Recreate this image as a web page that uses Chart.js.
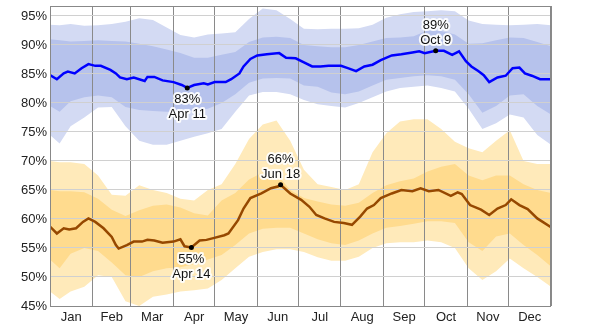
<!DOCTYPE html>
<html>
<head>
<meta charset="utf-8">
<script src="https://cdn.jsdelivr.net/npm/chart.js@4/dist/chart.umd.min.js"></script>
<style>
  html, body { margin: 0; padding: 0; background: #ffffff; }
  #c { display: block; }
</style>
</head>
<body>
<canvas id="c" width="600" height="329"></canvas>
<script>
// ---------- DATA ----------
const MONTHS = ['Jan','Feb','Mar','Apr','May','Jun','Jul','Aug','Sep','Oct','Nov','Dec'];
const MONTH_STARTS = [0,31,59,90,120,151,181,212,243,273,304,334,365];
const Y_TICKS = [45,50,55,60,65,70,75,80,85,90,95];

// Percentile bands (day of year)
const BAND_DAYS = [0,7,15,25,35,45,55,65,75,85,95,105,115,125,135,145,155,165,175,185,195,205,215,225,235,245,255,265,275,285,295,305,315,325,335,345,355,365];
const BLUE_P90 = [93.5,93.4,93.6,93.3,93.4,93.6,94.0,94.6,94.3,93.0,91.7,91.3,91.8,92.0,92.2,94.5,96.3,96.0,94.5,92.8,92.7,92.8,92.8,92.9,93.5,94.7,95.3,95.7,95.8,96.0,95.8,94.2,93.6,93.5,93.4,93.5,93.6,93.4];
const BLUE_P75 = [91.0,90.8,90.6,90.7,90.8,90.7,90.6,90.2,89.8,89.2,88.6,87.8,87.8,88.3,88.8,90.5,91.3,91.4,91.2,90.0,89.8,89.6,89.6,90.0,90.6,91.2,91.3,91.5,92.5,92.4,91.8,90.2,90.3,90.8,91.3,91.2,90.5,89.8];
const BLUE_P25 = [79.5,78.5,80.3,81.0,81.3,81.0,79.3,78.8,78.6,78.5,78.5,78.6,79.0,80.0,81.5,83.5,84.2,84.3,84.2,83.0,82.8,81.8,81.5,82.0,83.0,84.0,84.3,84.6,84.8,84.6,84.0,81.5,78.3,79.5,81.3,81.5,79.5,78.0];
const BLUE_P10 = [74.5,73.0,76.0,77.5,79.2,79.3,76.0,73.5,72.8,72.8,73.5,74.2,74.8,75.5,78.5,81.3,81.9,81.9,81.5,80.5,79.8,79.5,79.2,80.0,81.0,82.0,82.6,82.8,83.0,82.6,82.0,79.0,75.5,76.5,78.0,77.5,74.5,72.8];

const ORANGE_P90 = [70.0,69.8,69.8,69.5,67.5,64.2,64.0,65.8,65.0,64.5,63.5,63.2,65.0,66.0,69.5,73.8,76.3,77.0,73.5,68.5,66.0,65.5,65.0,66.0,71.5,74.8,76.8,77.2,77.2,75.5,73.3,72.2,71.5,73.5,75.3,70.0,69.5,69.5];
const ORANGE_P75 = [65.0,64.8,64.8,64.6,63.5,61.6,60.5,61.5,62.3,62.5,62.0,61.0,60.6,63.2,64.5,66.8,68.0,67.8,65.0,63.6,63.0,62.5,62.3,62.8,64.5,65.8,66.5,67.0,68.2,69.0,69.5,67.5,66.7,67.5,67.5,66.0,65.0,64.5];
const ORANGE_P25 = [53.0,51.5,54.0,55.0,54.5,52.5,50.3,50.0,51.0,51.5,51.7,52.2,53.0,53.8,55.5,57.5,58.3,58.5,58.5,57.5,56.5,55.8,55.5,56.3,57.5,58.5,58.8,59.2,59.6,59.6,59.3,56.0,54.5,57.0,57.5,55.5,53.8,51.8];
const ORANGE_P10 = [47.5,46.2,47.5,48.3,50.3,50.0,45.8,45.0,46.6,47.0,47.5,47.7,48.0,49.5,51.5,53.5,54.3,54.8,54.8,54.3,53.4,52.8,52.8,53.5,55.0,55.8,56.0,56.0,56.3,56.0,55.0,51.5,49.5,51.0,53.2,51.5,50.0,48.3];

// Median lines
const BLUE_DAYS = [0,5,10,13,18,23,28,33,37,44,48,51,56,61,69,71,76,82,90,96,100,105,112,115,120,128,132,138,141,146,151,158,167,172,179,185,191,197,203,212,217,223,229,235,241,249,256,264,269,273,281,287,293,298,303,307,312,316,320,326,332,337,342,346,351,357,365];
const BLUE_MEDIAN = [84.8,84.1,85.1,85.4,85.1,86.0,86.7,86.4,86.4,85.7,85.1,84.4,84.1,84.4,83.8,84.5,84.5,83.9,83.6,83.1,82.6,83.1,83.4,83.2,83.6,83.6,84.1,85.1,86.3,87.6,88.2,88.4,88.6,87.8,87.7,87.0,86.3,86.3,86.4,86.4,86.0,85.5,86.3,86.6,87.4,88.2,88.4,88.7,88.9,88.6,89.0,89.0,88.3,88.9,87.2,86.3,85.5,84.8,83.6,84.4,84.7,86.0,86.1,85.1,84.7,84.1,84.1];
const ORANGE_DAYS = [0,5,10,14,19,24,28,33,39,45,48,50,56,61,67,71,76,82,90,95,98,103,109,114,119,127,130,137,141,146,154,161,166,168,175,183,189,194,200,207,214,220,226,231,236,241,249,256,264,270,276,283,292,297,300,306,314,320,326,332,336,342,348,355,365];
const ORANGE_MEDIAN = [58.7,57.5,58.4,58.2,58.4,59.5,60.1,59.5,58.4,56.9,55.5,54.9,55.5,56.1,56.1,56.4,56.3,55.9,56.1,56.5,55.3,55.1,56.3,56.4,56.7,57.2,57.5,59.8,61.8,63.6,64.4,65.3,65.6,65.9,64.4,63.3,62.1,60.7,60.1,59.5,59.3,59.0,60.4,61.8,62.4,63.6,64.4,65.0,64.8,65.3,64.8,65.0,64.0,64.6,64.3,62.4,61.6,60.7,61.8,62.4,63.4,62.4,61.7,60.1,58.6];

// Annotated extremes
const ANNOT_DAYS   = [100, 281, 103, 168];
const ANNOT_VALUES = [82.6, 89.0, 55.1, 65.9];
const ANNOT_LABELS = ['83%', '89%', '55%', '66%'];
const ANNOT_DATES  = ['Apr 11', 'Oct 9', 'Apr 14', 'Jun 18'];
const ANNOT_SIDE   = ['below', 'above', 'below', 'above'];

// ---------- BUILD ----------
const pts = (xs, ys) => xs.map((x, i) => ({ x: x, y: ys[i] }));

const X_TICKS = [];
const X_LABEL_AT = {};
for (let i = 0; i < 12; i++) {
  X_TICKS.push(MONTH_STARTS[i]);
  const mid = (MONTH_STARTS[i] + MONTH_STARTS[i + 1]) / 2;
  X_TICKS.push(mid);
  X_LABEL_AT[mid] = MONTHS[i];
}
X_TICKS.push(365);

const bandDs = (data, fill, color) => ({
  data: data, fill: fill, backgroundColor: color,
  borderColor: 'rgba(0,0,0,0)', borderWidth: 0, pointRadius: 0, tension: 0
});

const annotPlugin = {
  id: 'annot',
  afterDatasetsDraw(chart) {
    const ctx = chart.ctx, xs = chart.scales.x, ys = chart.scales.y;
    ctx.save();
    ctx.font = '13px "Liberation Sans", Arial, sans-serif';
    ctx.textAlign = 'center';
    ctx.textBaseline = 'middle';
    ANNOT_DAYS.forEach((d, i) => {
      const px = xs.getPixelForValue(d), py = ys.getPixelForValue(ANNOT_VALUES[i]);
      ctx.fillStyle = '#000';
      ctx.beginPath(); ctx.arc(px, py, 2.5, 0, Math.PI * 2); ctx.fill();
      const lines = [ANNOT_LABELS[i], ANNOT_DATES[i]];
      const ys0 = ANNOT_SIDE[i] === 'below' ? [py + 12, py + 27] : [py - 25, py - 10];
      lines.forEach((t, k) => {
        ctx.lineWidth = 4; ctx.lineJoin = 'round';
        ctx.strokeStyle = 'rgba(255,255,255,0.9)';
        ctx.strokeText(t, px, ys0[k]);
        ctx.fillStyle = '#111';
        ctx.fillText(t, px, ys0[k]);
      });
    });
    ctx.restore();
  }
};

const framePlugin = {
  id: 'frame',
  afterDraw(chart) {
    const a = chart.chartArea, ctx = chart.ctx;
    ctx.save();
    ctx.strokeStyle = '#888';
    ctx.lineWidth = 1;
    ctx.strokeRect(Math.round(a.left) + 0.5, Math.round(a.top) + 0.5,
                   Math.round(a.right - a.left) - 1, Math.round(a.bottom - a.top));
    ctx.restore();
  }
};

Chart.defaults.font.family = '"Liberation Sans", Arial, sans-serif';
Chart.defaults.font.size = 13;
Chart.defaults.color = '#222';

new Chart(document.getElementById('c'), {
  type: 'line',
  data: {
    datasets: [
      { data: pts(BLUE_DAYS, BLUE_MEDIAN), borderColor: '#0000ff', borderWidth: 2.5,
        pointRadius: 0, fill: false, tension: 0 },
      { data: pts(ORANGE_DAYS, ORANGE_MEDIAN), borderColor: 'rgb(150,72,0)', borderWidth: 2.5,
        pointRadius: 0, fill: false, tension: 0 },
      bandDs(pts(BAND_DAYS, BLUE_P75), false, 'rgba(0,0,0,0)'),
      bandDs(pts(BAND_DAYS, BLUE_P25), '-1', 'rgb(182,194,236)'),
      bandDs(pts(BAND_DAYS, BLUE_P90), false, 'rgba(0,0,0,0)'),
      bandDs(pts(BAND_DAYS, BLUE_P10), '-1', 'rgb(211,218,243)'),
      bandDs(pts(BAND_DAYS, ORANGE_P75), false, 'rgba(0,0,0,0)'),
      bandDs(pts(BAND_DAYS, ORANGE_P25), '-1', 'rgb(255,219,142)'),
      bandDs(pts(BAND_DAYS, ORANGE_P90), false, 'rgba(0,0,0,0)'),
      bandDs(pts(BAND_DAYS, ORANGE_P10), '-1', 'rgb(255,234,186)')
    ]
  },
  options: {
    responsive: false,
    animation: false,
    devicePixelRatio: 1,
    layout: { padding: { left: 0, right: 49, top: 6, bottom: 0 } },
    plugins: {
      legend: { display: false },
      tooltip: { enabled: false },
      filler: { drawTime: 'beforeDraw' }
    },
    scales: {
      x: {
        type: 'linear', min: 0, max: 365,
        afterBuildTicks(s) { s.ticks = X_TICKS.map(v => ({ value: v })); },
        afterFit(s) { s.height = 23; s.paddingLeft = 0; s.paddingRight = 0; },
        ticks: {
          autoSkip: false, maxRotation: 0, minRotation: 0, padding: 4,
          color: '#222',
          callback: (v) => X_LABEL_AT[v] || ''
        },
        grid: {
          drawTicks: false,
          color: (c) => (c.tick && MONTH_STARTS.includes(c.tick.value)) ? '#8a8a8a' : 'rgba(0,0,0,0)',
          lineWidth: 1
        },
        border: { display: false }
      },
      y: {
        type: 'linear', min: 45, max: 96.72,
        afterBuildTicks(s) { s.ticks = Y_TICKS.map(v => ({ value: v })); },
        afterFit(s) { s.width = 50; s.paddingTop = 0; s.paddingBottom = 0; },
        ticks: { padding: 3, color: '#222', callback: (v) => v + '%' },
        grid: { drawTicks: false, color: '#d0d0d0', lineWidth: 1 },
        border: { display: false }
      }
    }
  },
  plugins: [annotPlugin, framePlugin]
});
</script>
</body>
</html>
